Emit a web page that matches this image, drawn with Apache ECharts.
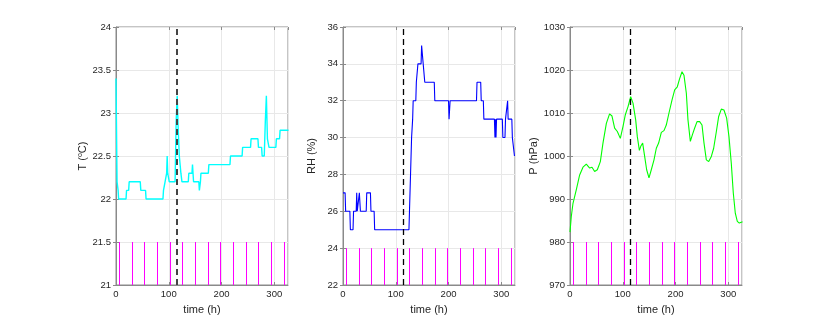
<!DOCTYPE html>
<html><head><meta charset="utf-8">
<script src="https://cdn.jsdelivr.net/npm/echarts@6/dist/echarts.min.js"></script>
<style>html,body{margin:0;padding:0;background:#fff}#c{width:830px;height:325px}</style>
</head><body><div id="c"></div>
<script>
// ---- data ----
const timeMarks = [6,30,54,78,102,126,150,174,198,222,246,270,294,318];
const eventTime = 115;
const tempData = [[0,23.4],[2,22.2],[4,22.1],[5,22.0],[19,22.0],[20,22.1],[24,22.1],[25,22.2],[46,22.2],[47,22.1],[56,22.1],[57,22.0],[89,22.0],[90,22.1],[93,22.2],[96,22.3],[97,22.5],[98,22.3],[100,22.3],[101,22.2],[112,22.2],[114,22.9],[116,23.2],[118,22.8],[120,22.5],[123,22.3],[125,22.2],[137,22.2],[138,22.3],[144,22.3],[145,22.4],[146,22.3],[147,22.2],[157,22.2],[158,22.1],[160,22.2],[161,22.3],[175,22.3],[176,22.4],[216,22.4],[217,22.5],[239,22.5],[240,22.6],[255,22.6],[256,22.7],[269,22.7],[270,22.6],[276,22.6],[277,22.5],[281,22.5],[283,22.9],[285,23.2],[287,22.7],[289,22.7],[290,22.6],[303,22.6],[304,22.7],[310,22.7],[311,22.8],[327,22.8]];
const rhData = [[0,27],[4,27],[5,26],[13,26],[14,25],[19,25],[20,26],[25,26],[26,27],[27,26],[30,26],[31,27],[32,27],[33,26],[44,26],[45,27],[52,27],[53,26],[59,26],[60,25],[125,25],[126,26],[128,28],[130,30],[132,31],[133,32],[138,32],[139,33],[141,33],[142,34],[148,34],[149,35],[151,35],[152,34],[154,34],[155,33],[173,33],[174,32],[200,32],[201,31],[202,31],[203,32],[253,32],[254,33],[261,33],[262,32],[266,32],[267,31],[287,31],[288,30],[289,31],[290,30],[291,31],[302,31],[303,30],[307,30],[308,31],[311,31],[312,32],[313,31],[320,31],[321,30],[323,30],[325,29]];
const presData = [[0,982.3],[2.5,986],[5.7,989],[12,992.2],[18.3,995.6],[24.6,997.4],[30.9,998.1],[37.3,997.2],[41.7,997.4],[46.7,996.4],[51.8,996.8],[57.5,998.7],[62.5,1003],[68.9,1007.6],[75,1009.8],[79.6,1009.3],[84.6,1006.5],[89.7,1005.7],[95.4,1004.1],[100.5,1006.9],[104.9,1009.6],[110,1011.5],[115,1013.8],[119.4,1012.3],[124.5,1008.4],[127.6,1004.5],[131.5,1001.3],[134.6,1002.4],[137.7,1003],[141.5,999.9],[145.3,996.8],[149.7,994.9],[154.1,996.8],[159.2,999.1],[163.6,1001.8],[168,1003],[173.1,1005.5],[178.1,1005.9],[182.5,1007.2],[187.6,1010],[193.3,1013],[198.4,1015.4],[203.4,1016.1],[207.8,1018],[212.3,1019.6],[216,1018.8],[220.5,1014.6],[223.6,1008.4],[228.1,1003.4],[231.9,1004.9],[236.3,1006.5],[240.8,1008],[245.7,1008],[250.2,1007.2],[254,1003],[258.4,999.1],[262.9,998.7],[267.9,999.9],[272.3,1001.8],[277.4,1005.7],[281.8,1009.2],[286.8,1010.9],[291.8,1010.7],[296.9,1008.8],[301.3,1004.5],[305.7,998.3],[309.5,991.4],[313.3,986.7],[317.1,984.8],[320.9,984.4],[327,984.7]];
const xName = 'time (h)';
const yNames = ['T ({sup|o}C)', 'RH (%)', 'P (hPa)'];

// ---- chart ----
const font = "'Liberation Sans', Arial, Helvetica, sans-serif";
const panels = [
  {data: tempData, color: '#00ffff', width: 1.4, min: 21, max: 24, interval: 0.5, markTop: 21.5, dash: '#444', dashW: 2},
  {data: rhData, color: '#0000ff', width: 1.1, min: 22, max: 36, interval: 2, markTop: 24, dash: '#000', dashW: 1.3},
  {data: presData, color: '#00ff00', width: 1.1, min: 970, max: 1030, interval: 10, markTop: 980, dash: '#000', dashW: 1.3}
];
const lefts = [116, 343, 570];
const grid = [], xAxis = [], yAxis = [], series = [];
const axisColor = '#8a8a8a', textColor = '#262626', gridColor = '#e8e8e8';
const plain = v => String(Math.round(v * 1000) / 1000);
panels.forEach((p, i) => {
  grid.push({left: lefts[i], top: 27, width: 172, height: 258, show: true, borderColor: axisColor, borderWidth: 1, containLabel: false});
  xAxis.push({type: 'value', gridIndex: i, min: 0, max: 326, interval: 100,
    name: xName, nameLocation: 'middle', nameGap: 19,
    nameTextStyle: {fontFamily: font, fontSize: 11, color: textColor},
    axisLine: {show: true, lineStyle: {color: axisColor, width: 1}},
    axisTick: {show: true, inside: true, length: 3, lineStyle: {color: axisColor}},
    axisLabel: {fontFamily: font, fontSize: 9.5, color: textColor, margin: 4, showMaxLabel: false, formatter: plain},
    splitLine: {show: true, lineStyle: {color: gridColor, width: 1}}});
  xAxis.push({type: 'value', gridIndex: i, min: 0, max: 326, interval: 100, position: 'top',
    axisLine: {show: false}, axisTick: {show: true, inside: true, length: 3, lineStyle: {color: axisColor}},
    axisLabel: {show: false}, splitLine: {show: false}});
  yAxis.push({type: 'value', gridIndex: i, min: p.min, max: p.max, interval: p.interval,
    name: yNames[i], nameLocation: 'middle', nameGap: 26,
    nameTextStyle: {fontFamily: font, fontSize: 11, color: textColor,
      rich: {sup: {fontSize: 7, fontFamily: font, color: textColor, verticalAlign: 'top', padding: [0, 0, 6, 0]}}},
    axisLine: {show: true, lineStyle: {color: axisColor, width: 1}},
    axisTick: {show: true, inside: true, length: 3, lineStyle: {color: axisColor}},
    axisLabel: {fontFamily: font, fontSize: 9.5, color: textColor, margin: 5, formatter: plain},
    splitLine: {show: true, lineStyle: {color: gridColor, width: 1}}});
  yAxis.push({type: 'value', gridIndex: i, min: p.min, max: p.max, interval: p.interval, position: 'right',
    axisLine: {show: false}, axisTick: {show: true, inside: true, length: 3, lineStyle: {color: axisColor}},
    axisLabel: {show: false}, splitLine: {show: false}});
  const markData = timeMarks.map(t => [{coord: [t, p.min]}, {coord: [t, p.markTop]}]);
  markData.push({xAxis: eventTime, lineStyle: {color: p.dash, width: p.dashW, type: [6, 4]}});
  series.push({type: 'line', xAxisIndex: 2 * i, yAxisIndex: 2 * i, data: p.data,
    showSymbol: false, symbol: 'none', clip: true,
    lineStyle: {color: p.color, width: p.width}, z: 3,
    markLine: {silent: true, symbol: ['none', 'none'], label: {show: false},
      lineStyle: {color: '#ff00ff', width: 1, type: 'solid'}, data: markData, animation: false}});
});
const chart = echarts.init(document.getElementById('c'), null, {renderer: 'canvas'});
chart.setOption({animation: false, backgroundColor: '#fff', grid, xAxis, yAxis, series});
</script></body></html>
